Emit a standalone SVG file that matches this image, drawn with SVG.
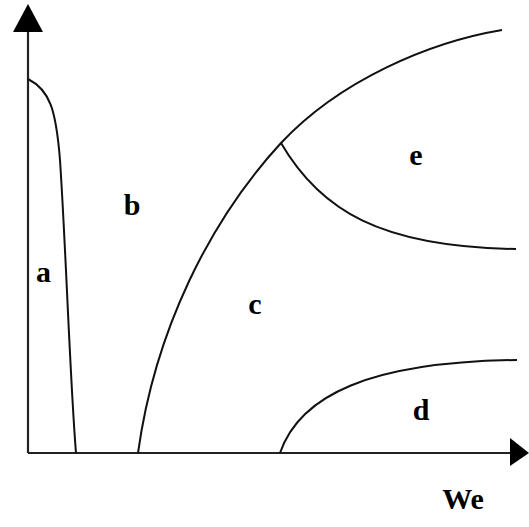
<svg xmlns="http://www.w3.org/2000/svg" width="529" height="527" viewBox="0 0 529 527">
<style>
.ax{stroke:#222;stroke-width:2.2;fill:none}
.cv{stroke:#111;stroke-width:2;fill:none}
.lb{font-family:"Liberation Serif",serif;font-weight:bold;font-size:30px;fill:#000;text-anchor:middle}
</style>
<rect width="529" height="527" fill="#fff"/>
<g id="axes">
<path class="ax" d="M28,453 V30 M28,453 H512"/>
<polygon points="28,4 13,32 43,32" fill="#000"/>
<polygon points="529,453 510,438 510,466" fill="#000"/>
</g>
<g id="connectors">
<path class="cv" d="M28,79 C50,90 56,110 60,160 C66,250 70,380 76,453"/>
<path class="cv" d="M138,453 C155,330 210,220 281,143 C340,80 430,42 502,30"/>
<path class="cv" d="M281,143 C320,210 380,247 516,249"/>
<path class="cv" d="M280,453 C300,395 370,362 517,360"/>
</g>
<g id="labels">
<text class="lb" x="43.5" y="282">a</text>
<text class="lb" x="132" y="215">b</text>
<text class="lb" x="255" y="314">c</text>
<text class="lb" x="421" y="420">d</text>
<text class="lb" x="416" y="165">e</text>
<text class="lb" x="463" y="509">We</text>
</g>
</svg>
